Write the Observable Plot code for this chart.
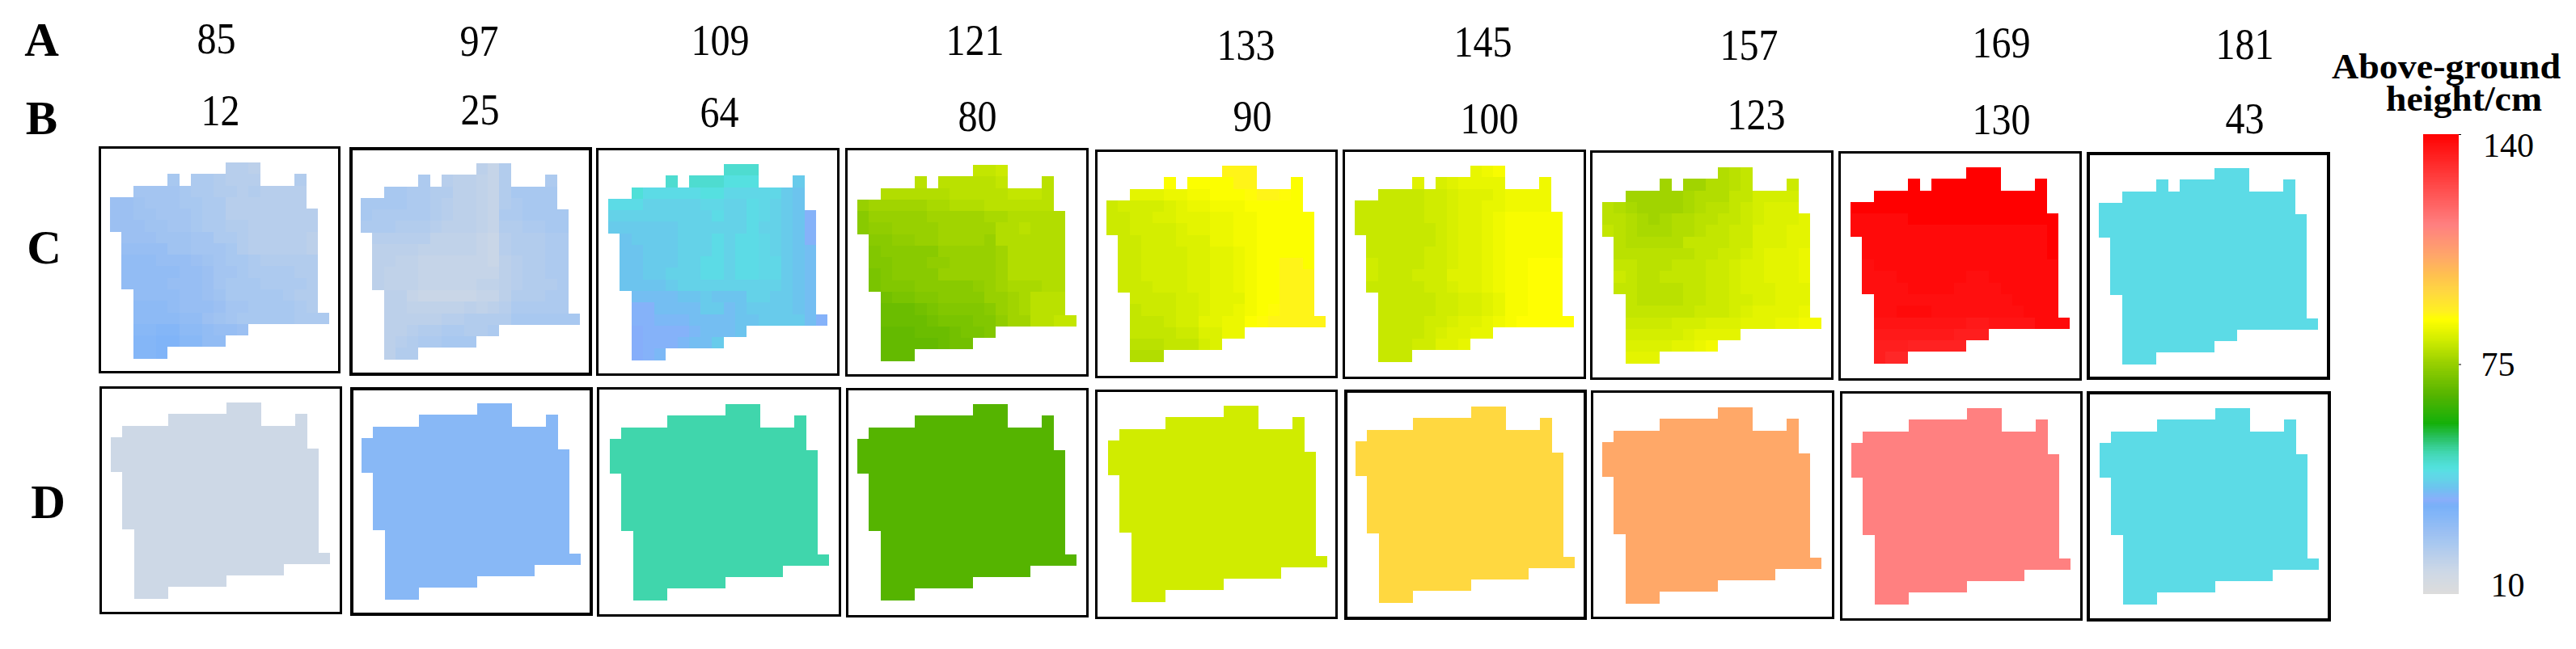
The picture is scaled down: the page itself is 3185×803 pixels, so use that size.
<!DOCTYPE html>
<html>
<head>
<meta charset="utf-8">
<script src="https://cdn.jsdelivr.net/npm/d3@7"></script>
<script src="https://cdn.jsdelivr.net/npm/@observablehq/plot@0.6"></script>
<style>html,body{margin:0;padding:0;background:#fff;overflow:hidden}svg{display:block}</style>
</head>
<body>
<div id="chart"></div>
<script>
// ---------- values ----------
const rowLetters = ["A", "B", "C", "D"];
const rowALabels = ["85", "97", "109", "121", "133", "145", "157", "169", "181"];
const rowBLabels = ["12", "25", "64", "80", "90", "100", "123", "130", "43"];
const legendTitle = ["Above-ground", "height/cm"];
const legendTicks = [140, 75, 10];

// Heights: value = base + digit (base 36), "." = outside the field
const cBase = [20, 17, 36, 68, 78, 80.5, 75, 132, 44];
const cRows1 = ["..........110......",".....4.332111...2..","..555543322121111..","77655544331111111..","776655543311111111.","777665543322111111.",".77766655332111110.",".88886655542111110.",".99988876544322222.",".99999887554333322.",".99998887544433332.","..9999887644444322.","..aaa9888755444432.","..aaaa9976544444333","..bbccaa9887.......","..ccddbb99.........","..ccd.............."];
const cRows2 = ["..........315......",".....6.433215...6..","..776655332157777..","77776654332156777..","766666543321667777.","666555433321556677.",".44444222210455566.",".33332222210455566.",".33221111110345566.",".32221111111345566.",".32221111122345556.","..3310000011355566.","..3322222323466666.","..33333445555777777","..3345566556.......","..34566777.........","..355.............."];
const cRows3 = ["..........bbb......",".....b.bbb999...5..","..a88888997777754..","88866666776687654..","666666666866876541.","555555666666866541.",".45555666868876541.",".44555666868876543.",".44555668868877543.",".44556668868877543.",".44445666666666543.","..3333445444665543.","..1133335534555543.","..11222333344555531","..0111123334.......","..01112335.........","..012.............."];
const cRows4 = ["..........ccd......",".....b.bbbbbc...b..","..aaaaaabbbbbcccb..","78888899aaabbbbbb..","5777778888899aaaaa.","566777788888aabaaa.",".55667788887aaaaaa.",".455555777778aaaaa.",".445556677778aaaaa.",".345555777778aaaaa.",".344455555678999aa.","..2334455557789bbb.","..1112344445789bbb.","..1111233344688bbcc","..0001112334.......","..00000122.........","..000.............."];
const cRows5 = ["..........bbb......",".....9.9999bb...9..","..6667788999abba9..","34444567788899999..","334455666778899999.","334444566778899999.",".33444555778899999.",".33444455667899999.",".33444455667899bb9.",".33444455667899bbb.",".33344455667899bbb.","..3333445666899bbb.","..233344566789abbb.","..22234466779abbbbb","..2222335577.......","..11122245.........","..000.............."];
const cRows6 = ["..........456......",".....3.234444...5..","..000011233345555..","00000011233445555..","000000112334566666.","000000012334566666.",".00000012334566666.",".00000112334566666.",".10000112334566777.",".10001113334566777.",".00000112334566777.","..0000011223466777.","..0000011223466777.","..00001123345677777","..0000123344.......","..00011334.........","..000.............."];
const cRows7 = ["..........345......",".....1.113345...6..","..111112333557777..","43211112344567888..","443212334455678889.","543222334556688899.",".43333355556688899.",".4444444556678999a.",".5544455566788999a.",".6544555566788999a.",".55444455667888999.","..5444455667788999.","..555555666789999a.","..6666777888999aabb","..7777789999.......","..888899ab.........","..999.............."];
const cRows8 = ["..........888......",".....8.888888...8..","..888888888888888..","88888888888888888..","666668888888888888.","666666666666666668.",".66666666666666668.",".66666666666666668.",".56666666666666666.",".55566666655666666.",".55556666555566666.","..5555555555556666.","..5566655555555666.","..44444444334444666","..3333333222.......","..22211111.........","..200.............."];
const cRows9 = ["..........000......",".....0.000000...0..","..000000000000000..","00000000000000000..","000000000000000000.","000000000000000000.",".00000000000000000.",".00000000000000000.",".00000000000000000.",".00000000000000000.",".00000000000000000.","..0000000000000000.","..0000000000000000.","..00000000000000000","..0000000000.......","..00000000.........","..000.............."];
const dRows = ["..........000......",".....00000000...0..",".0000000000000000..","00000000000000000..","000000000000000000.","000000000000000000.",".00000000000000000.",".00000000000000000.",".00000000000000000.",".00000000000000000.",".00000000000000000.","..0000000000000000.","..0000000000000000.","..00000000000000000","..0000000000000....","..00000000.........","..000.............."];
const dHeights = [16, 31, 50, 66, 81.5, 95, 105, 114, 44];

// Legend colour ramp
const rampValues = [10, 16, 20, 24, 27, 31, 33, 34.7, 36.4, 38, 40, 42, 44, 45, 46, 47, 50, 54, 58, 66, 75, 81.5, 87.4, 89.5, 95, 100, 105, 114, 140];
const rampColors = ["#dcdcdc", "#cdd8e6", "#bcd0ea", "#a8c8f0", "#9cc0f2", "#88b8f6", "#80b4f8", "#78b0f8", "#8aaefa", "#7cb8f6", "#6cc4ee", "#64d2e8", "#5cdbe6", "#55e0e0", "#4fe0d8", "#4edcd0", "#40d6ac", "#28c060", "#14b00a", "#55b400", "#98d000", "#d0ec00", "#ffff00", "#fff020", "#ffd840", "#ffc050", "#ffa868", "#ff8080", "#ff0000"];

// ---------- layout (page pixels) ----------
const cFrames = [[122,421,181,462],[432,732,182,465],[737,1038,183,465],[1045,1346,183,466],[1354,1654,185,468],[1660,1961,185,469],[1966,2267,186,470],[2273,2574,187,471],[2580,2881,188,470]];
const dFrames = [[123,423,478,760],[433,733,479,762],[738,1040,479,763],[1046,1346,480,764],[1354,1654,482,766],[1662,1962,482,767],[1967,2268,483,766],[2275,2575,484,768],[2580,2882,484,769]];
const cFrameWeights = [3, 4, 3, 3, 3, 3, 3, 3, 4];
const dFrameWeights = [3, 4, 3, 3, 3, 4, 3, 3, 4];
const cOrigins = [[136,201],[446,202],[752,203],[1060,204],[1368,205],[1675,205],[1981,207],[2288,207],[2595,208]];
const dOrigins = [[137,498],[447,499],[754,500],[1060,500],[1370,502],[1676,503],[1981,504],[2289,505],[2596,505]];
const cellSize = 14.27;
const rowAPos = [[267,48],[592,51],[890,50],[1205,50],[1540,56],[1833,52],[2162,56],[2474,53],[2775,55]];
const rowBPos = [[272,137],[593,136],[889,139],[1208,144],[1548,144],[1841,147],[2171,142],[2474,148],[2775,147]];
const letterPos = [[51,50],[51,147],[54,307],[59,622]];
const bar = {x1: 2996, x2: 3040, y1: 735, y2: 166};
const tickPos = {140: [3101, 180], 75: [3088, 451], 10: [3100, 724]};
const titlePos = [[3024, 82], [3046, 122]];
const serif = "Liberation Serif";
const digitAdvance = 24;            // condensed figures of the column labels
const titleWidths = {"Above-ground": 283, "height/cm": 193};

// ---------- derived tables ----------
const cellsOf = (rows, base, origin, panel) => rows.flatMap((row, r) =>
  Array.from(row).flatMap((ch, c) => ch === "." ? [] : [{
    x1: origin[0] + c * cellSize, x2: origin[0] + (c + 1) * cellSize,
    y1: origin[1] + r * cellSize, y2: origin[1] + (r + 1) * cellSize,
    height: base + parseInt(ch, 36), panel
  }]));

const allCRows = [cRows1, cRows2, cRows3, cRows4, cRows5, cRows6, cRows7, cRows8, cRows9];
const cells = [
  ...allCRows.flatMap((rows, i) => cellsOf(rows, cBase[i], cOrigins[i], "C" + i)),
  ...dHeights.flatMap((h, i) => cellsOf(dRows, h, dOrigins[i], "D" + i))
];
const weights = [...cFrameWeights, ...dFrameWeights];
const frames = [...cFrames, ...dFrames].map(([x1, x2, y1, y2], i) => {
  const w = weights[i], inset = w / 2;
  return {x1: x1 + inset, x2: x2 - inset, y1: y1 + inset, y2: y2 - inset, w};
});
const barY = v => bar.y1 + (v - 10) / 130 * (bar.y2 - bar.y1);
const rampSteps = d3.range(10, 140, 0.5).map(v => ({v, y1: barY(v), y2: barY(v + 0.5)}));

const labelData = (labels, pos) => labels.map((t, i) => ({t, x: pos[i][0], y: pos[i][1]}));

const chart = Plot.plot({
  width: 3185, height: 803,
  margin: 0,
  x: {domain: [0, 3185], range: [0, 3185], axis: null},
  y: {domain: [0, 803], range: [0, 803], axis: null},
  color: {type: "linear", domain: rampValues, range: rampColors, interpolate: "rgb", clamp: true},
  style: {background: "#fff"},
  marks: [
    Plot.rect(cells, {x1: "x1", x2: "x2", y1: "y1", y2: "y2", fill: "height", shapeRendering: "crispEdges"}),
    Plot.rect(frames, {x1: "x1", x2: "x2", y1: "y1", y2: "y2", fill: "none", stroke: "#000", strokeWidth: "w"}),
    Plot.rect(rampSteps, {x1: () => bar.x1, x2: () => bar.x2, y1: "y1", y2: "y2", fill: "v", shapeRendering: "crispEdges"}),
    Plot.ruleY([140, 75].map(barY), {x1: bar.x2, x2: bar.x2 + 3, stroke: "#000", strokeWidth: 1}),
    Plot.text(labelData(rowALabels, rowAPos), {x: "x", y: "y", text: "t", fontFamily: serif, fontSize: 55, fill: "#000", className: "condensed"}),
    Plot.text(labelData(rowBLabels, rowBPos), {x: "x", y: "y", text: "t", fontFamily: serif, fontSize: 55, fill: "#000", className: "condensed"}),
    Plot.text(labelData(rowLetters, letterPos), {x: "x", y: "y", text: "t", fontFamily: serif, fontWeight: "bold", fontSize: 59, fill: "#000"}),
    Plot.text(labelData(legendTitle, titlePos), {x: "x", y: "y", text: "t", fontFamily: serif, fontWeight: "bold", fontSize: 45, fill: "#000", className: "title"}),
    Plot.text(legendTicks.map(v => ({t: String(v), x: tickPos[v][0], y: tickPos[v][1]})), {x: "x", y: "y", text: "t", fontFamily: serif, fontSize: 42, fill: "#000"})
  ]
});
d3.select(chart).selectAll(".condensed text")
  .attr("textLength", function () { return this.textContent.length * digitAdvance; })
  .attr("lengthAdjust", "spacingAndGlyphs");
d3.select(chart).selectAll(".title text")
  .attr("textLength", function () { return titleWidths[this.textContent]; })
  .attr("lengthAdjust", "spacingAndGlyphs");
document.getElementById("chart").appendChild(chart);
</script>
</body>
</html>
